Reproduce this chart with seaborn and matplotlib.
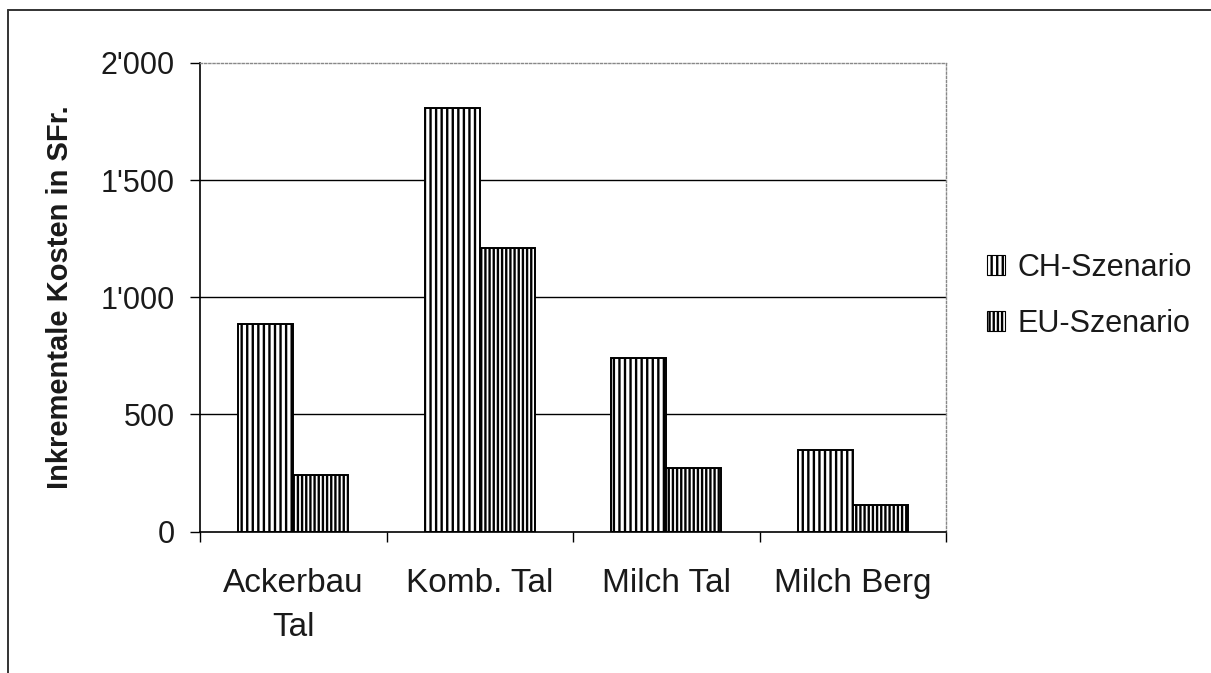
import matplotlib
matplotlib.use("Agg")
import matplotlib.pyplot as plt
from matplotlib.lines import Line2D
from matplotlib.patches import Patch
from matplotlib.ticker import FuncFormatter, FixedLocator
import seaborn as sns
import pandas as pd

# Data
categories = ["Ackerbau\nTal", "Komb. Tal", "Milch Tal", "Milch Berg"]
series = ["CH-Szenario", "EU-Szenario"]
ch_values = [886, 1810, 740, 346]
eu_values = [240, 1212, 270, 115]
y_ticks = [0, 500, 1000, 1500, 2000]

df = pd.DataFrame({
    "Betrieb": categories * 2,
    "Szenario": [series[0]] * len(categories) + [series[1]] * len(categories),
    "Kosten": ch_values + eu_values,
})

sns.set_theme(style="white")
plt.rcParams["font.family"] = ["Liberation Sans", "DejaVu Sans"]
plt.rcParams["hatch.linewidth"] = 1.7

W, H = 1211, 673
fig = plt.figure(figsize=(W / 100, H / 100), dpi=100)
fig.patch.set_facecolor("white")
ax = fig.add_axes([200 / W, 1 - 531.5 / H, 746 / W, 468.5 / H])

sns.barplot(data=df, x="Betrieb", y="Kosten", hue="Szenario",
            order=categories, hue_order=series, width=0.59,
            palette=["white", "white"],
            edgecolor="black", linewidth=1.4, saturation=1,
            legend=False, ax=ax)

hatches = ["|||", "||||"]
for cont, h in zip(ax.containers, hatches):
    for bar in cont:
        bar.set_hatch(h)
        bar.set_facecolor("white")
        bar.set_edgecolor("black")

# Axes limits and ticks
ax.set_xlim(-0.5, len(categories) - 0.5)
ax.set_ylim(0, 2000)
ax.yaxis.set_major_locator(FixedLocator(y_ticks))
ax.yaxis.set_major_formatter(FuncFormatter(lambda v, p: f"{int(v):,}".replace(",", "'")))
ax.tick_params(axis="y", which="major", direction="out", length=7, width=1,
               color="black", labelsize=22, pad=11, left=True, labelcolor="#1a1a1a")

ax.set_xticks([i - 0.5 for i in range(len(categories) + 1)])
ax.set_xticklabels([""] * (len(categories) + 1))
ax.set_xticks(range(len(categories)), minor=True)
ax.set_xticklabels(categories, minor=True, fontsize=24, linespacing=1.55,
                   color="#1a1a1a")
ax.tick_params(axis="x", which="major", direction="out", length=7, width=1,
               color="black", bottom=True)
ax.tick_params(axis="x", which="minor", length=0, pad=26)

# Gridlines
ax.set_axisbelow(True)
ax.yaxis.grid(True, color="black", linewidth=1.0)
ax.xaxis.grid(False)
for gl, v in zip(ax.get_ygridlines(), y_ticks):
    if v in (0, 2000):
        gl.set_visible(False)

# Spines
for side in ("left", "bottom"):
    ax.spines[side].set_color("black")
    ax.spines[side].set_linewidth(1.2)
for side in ("top", "right"):
    ax.spines[side].set_color("#888888")
    ax.spines[side].set_linewidth(1.0)
    ax.spines[side].set_linestyle((0, (1.5, 1.5)))

ax.set_xlabel("")
ax.set_ylabel("Inkrementale Kosten in SFr.", fontsize=21, fontweight="bold",
              color="#1a1a1a", labelpad=19)

# Legend
handles = [Patch(facecolor="white", edgecolor="black", hatch=h, linewidth=0.8)
           for h in hatches]
fig.legend(handles, series, loc="center left",
           bbox_to_anchor=(987 / W, 1 - 296 / H), frameon=False,
           fontsize=22, handlelength=0.6, handleheight=0.65,
           handletextpad=0.4, labelspacing=0.85, borderaxespad=0,
           borderpad=0, labelcolor="#1a1a1a")

# Outer frame (left and top edges)
fig.add_artist(Line2D([8 / W, 8 / W], [0, 1 - 10 / H], transform=fig.transFigure,
                      color="#333333", linewidth=1.4))
fig.add_artist(Line2D([8 / W, 1], [1 - 10 / H, 1 - 10 / H], transform=fig.transFigure,
                      color="#333333", linewidth=1.4))

fig.savefig("out.png", dpi=100, facecolor="white")
